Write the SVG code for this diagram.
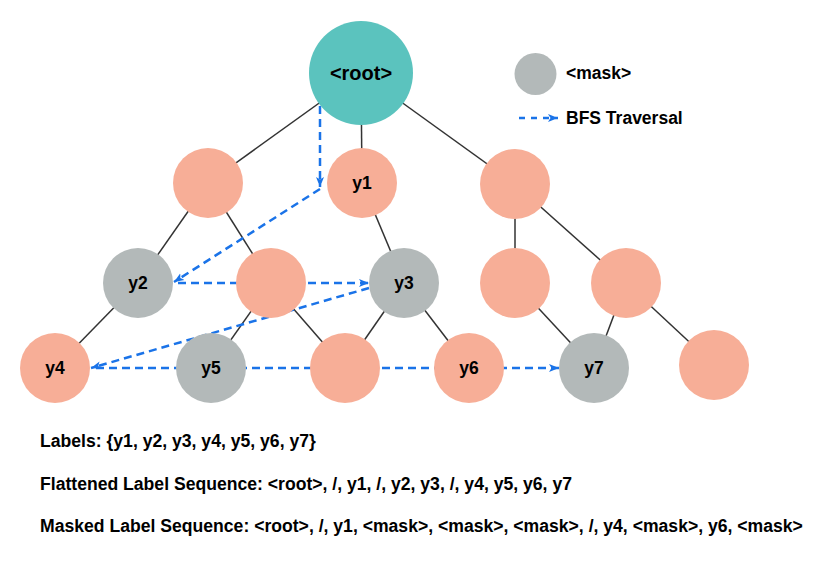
<svg xmlns="http://www.w3.org/2000/svg" width="830" height="571" viewBox="0 0 830 571">
<style>
.edge{stroke:#333;stroke-width:1.5;fill:none}
.bfs{stroke:#1a73e8;stroke-width:2.5;stroke-dasharray:8 5;fill:none}
.teal{fill:#5bc3be}
.sal{fill:#f7ae97}
.gray{fill:#b3b9b9}
text{font-family:"Liberation Sans",Arial,sans-serif;font-weight:bold;fill:#000}
.lbl{font-size:17.5px;text-anchor:middle}
.txt{font-size:17.6px}
</style>
<defs>
<marker id="arr" viewBox="0 0 10 10" refX="10" refY="5" markerWidth="10" markerHeight="10" markerUnits="userSpaceOnUse" orient="auto">
<path d="M0,1 L10,5 L0,9 L2.5,5 z" fill="#1a73e8"/>
</marker>
</defs>
<rect width="830" height="571" fill="#fff"/>
<g id="edges">
<line class="edge" x1="361" y1="73" x2="208" y2="183"/>
<line class="edge" x1="361" y1="73" x2="362" y2="183"/>
<line class="edge" x1="361" y1="73" x2="515" y2="184"/>
<line class="edge" x1="208" y1="183" x2="138" y2="283"/>
<line class="edge" x1="208" y1="183" x2="271" y2="283"/>
<line class="edge" x1="362" y1="183" x2="404" y2="283"/>
<line class="edge" x1="515" y1="184" x2="515" y2="283"/>
<line class="edge" x1="515" y1="184" x2="626" y2="283"/>
<line class="edge" x1="138" y1="283" x2="55" y2="368"/>
<line class="edge" x1="271" y1="283" x2="211" y2="368"/>
<line class="edge" x1="271" y1="283" x2="345" y2="368"/>
<line class="edge" x1="404" y1="283" x2="345" y2="368"/>
<line class="edge" x1="404" y1="283" x2="469" y2="368"/>
<line class="edge" x1="515" y1="283" x2="594" y2="368"/>
<line class="edge" x1="626" y1="283" x2="594" y2="368"/>
<line class="edge" x1="626" y1="283" x2="714" y2="365"/>
</g>
<g id="bfs-connectors">
<path class="bfs" d="M320,106 L320,187" marker-end="url(#arr)"/>
<path class="bfs" d="M320,189 L174,282" marker-end="url(#arr)"/>
<path class="bfs" d="M178,283 L369,283" marker-end="url(#arr)"/>
<path class="bfs" d="M369,288 L91,368" marker-end="url(#arr)"/>
<path class="bfs" d="M96,368 L559,368" marker-end="url(#arr)"/>
</g>
<g id="root"><circle class="teal" cx="361" cy="73" r="52"/><text class="lbl" x="361" y="80" style="font-size:20px">&lt;root&gt;</text></g>
<g id="n1a"><circle class="sal" cx="208" cy="183" r="35"/></g>
<g id="y1"><circle class="sal" cx="362" cy="183" r="35"/><text class="lbl" x="362" y="189">y1</text></g>
<g id="n1c"><circle class="sal" cx="515" cy="184" r="35"/></g>
<g id="y2"><circle class="gray" cx="138" cy="283" r="35"/><text class="lbl" x="138" y="289">y2</text></g>
<g id="n2b"><circle class="sal" cx="271" cy="283" r="35"/></g>
<g id="y3"><circle class="gray" cx="404" cy="283" r="35"/><text class="lbl" x="404" y="289">y3</text></g>
<g id="n2d"><circle class="sal" cx="515" cy="283" r="35"/></g>
<g id="n2e"><circle class="sal" cx="626" cy="283" r="35"/></g>
<g id="y4"><circle class="sal" cx="55" cy="368" r="35"/><text class="lbl" x="55" y="374">y4</text></g>
<g id="y5"><circle class="gray" cx="211" cy="368" r="35"/><text class="lbl" x="211" y="374">y5</text></g>
<g id="n3c"><circle class="sal" cx="345" cy="368" r="35"/></g>
<g id="y6"><circle class="sal" cx="469" cy="368" r="35"/><text class="lbl" x="469" y="374">y6</text></g>
<g id="y7"><circle class="gray" cx="594" cy="368" r="35"/><text class="lbl" x="594" y="374">y7</text></g>
<g id="n3f"><circle class="sal" cx="714" cy="365" r="35"/></g>
<g id="legend">
<circle class="gray" cx="535.5" cy="74" r="21"/>
<text class="lbl" x="566" y="79" style="text-anchor:start">&lt;mask&gt;</text>
<path class="bfs" d="M519,118 L558,118" style="stroke-dasharray:6 6" marker-end="url(#arr)"/>
<text class="lbl" x="566" y="124" style="text-anchor:start">BFS Traversal</text>
</g>
<g id="captions">
<text class="txt" x="40" y="447">Labels: {y1, y2, y3, y4, y5, y6, y7}</text>
<text class="txt" x="40" y="490">Flattened Label Sequence: &lt;root&gt;, /, y1, /, y2, y3, /, y4, y5, y6, y7</text>
<text class="txt" x="40" y="532">Masked Label Sequence: &lt;root&gt;, /, y1, &lt;mask&gt;, &lt;mask&gt;, &lt;mask&gt;, /, y4, &lt;mask&gt;, y6, &lt;mask&gt;</text>
</g>
</svg>
